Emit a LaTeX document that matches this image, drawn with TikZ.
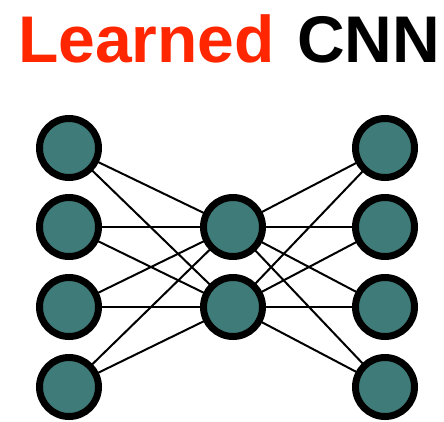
\documentclass[tikz,border=0pt]{standalone}
\usepackage{fontspec}
\setmainfont{Liberation Sans}
\definecolor{titlered}{HTML}{FF2600}
\definecolor{neuron}{HTML}{3F7B78}
\begin{document}
\begin{tikzpicture}[x=1pt,y=-1pt,
  neuronnode/.style={circle,draw=black,fill=neuron,line width=7pt,minimum size=59pt,inner sep=0pt},
  link/.style={draw=black,line width=2pt}]
\useasboundingbox (0,0) rectangle (444,421);
\node[anchor=base west,inner sep=0pt,font=\fontsize{66}{70}\selectfont\bfseries] (title) at (18,62)
  {\textcolor{titlered}{Learned}\hspace{4pt} CNN};
% coordinates
\foreach \i/\y in {1/148,2/227,3/307,4/387}{
  \coordinate (lp\i) at (69,\y);
  \coordinate (rp\i) at (385,\y);
}
\coordinate (mp1) at (233,227);
\coordinate (mp2) at (233,307);
% links
\foreach \i in {1,2,3,4}{
  \foreach \j in {1,2}{
    \draw[link] (lp\i) -- (mp\j);
    \draw[link] (mp\j) -- (rp\i);
  }
}
% nodes
\foreach \i in {1,2,3,4}{
  \node[neuronnode] (l\i) at (lp\i) {};
  \node[neuronnode] (r\i) at (rp\i) {};
}
\node[neuronnode] (m1) at (mp1) {};
\node[neuronnode] (m2) at (mp2) {};
\end{tikzpicture}
\end{document}
